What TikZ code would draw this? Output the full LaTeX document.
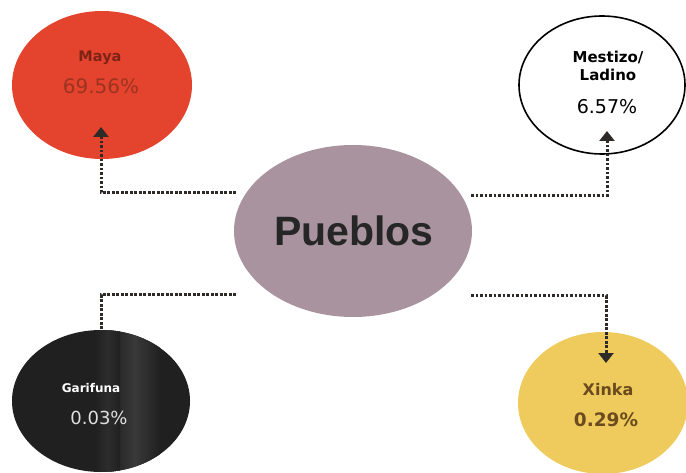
\documentclass[tikz,border=0pt]{standalone}
\usepackage{fontspec}
\setmainfont{DejaVu Sans}
\newfontfamily\heavy{Liberation Sans}
\usetikzlibrary{shapes.geometric,arrows.meta}
\definecolor{mayared}{HTML}{E4442D}
\definecolor{mayatext}{HTML}{7E2417}
\definecolor{mayapct}{HTML}{9C3321}
\definecolor{xinkay}{HTML}{EECB5C}
\definecolor{xinkatext}{HTML}{6B4A1E}
\definecolor{pueblosc}{HTML}{A8939F}
\definecolor{garic}{HTML}{202020}
\definecolor{linec}{HTML}{2E2A28}
\tikzset{
  blob/.style={ellipse, inner sep=0pt},
  dotline/.style={draw=linec, line width=3pt, line cap=butt, dash pattern=on 2.6pt off 1.9pt},
  tipped/.style={-{Triangle[width=15pt,length=10pt]}},
  lbl/.style={inner sep=0pt, align=center, font=\bfseries},
}
\begin{document}
\begin{tikzpicture}[x=1pt,y=-1pt]
\useasboundingbox (0,0) rectangle (686,473);
% ellipses
\node[blob, fill=mayared, minimum width=180pt, minimum height=148pt] (maya) at (102,85) {};
\node[blob, draw=black, line width=1.6pt, fill=white, minimum width=166pt, minimum height=138pt] (mest) at (602,85) {};
\node[blob, fill=garic, minimum width=178pt, minimum height=142pt] (gari) at (101,401) {};
\begin{scope}
  \clip (101,401) ellipse [x radius=89pt, y radius=71pt];
  \shade[left color=garic, right color=garic, middle color=gray!45!black] (110,320) rectangle (160,480);
  \shade[left color=garic, right color=garic, middle color=gray!35!black] (95,320) rectangle (120,480);
\end{scope}
\node[blob, fill=xinkay, minimum width=170pt, minimum height=142pt] (xinka) at (603,403) {};
\node[blob, fill=pueblosc, minimum width=238pt, minimum height=172pt] (pu) at (353,231) {};
% texts
\node[lbl, font=\bfseries\fontsize{14.5}{15}\selectfont, text=mayatext] (tmaya) at (100,58) {Maya};
\node[inner sep=0pt, font=\fontsize{20}{21}\selectfont, text=mayapct] (pmaya) at (101,86) {69.56\%};
\node[lbl, font=\bfseries\fontsize{15}{17.5}\selectfont] (tmest) at (608,66) {Mestizo/\\Ladino};
\node[inner sep=0pt, font=\fontsize{19}{20}\selectfont] (pmest) at (607,107) {6.57\%};
\node[lbl, font=\bfseries\fontsize{12}{13}\selectfont, text=white] (tgari) at (91,388) {Garifuna};
\node[inner sep=0pt, font=\fontsize{18}{19}\selectfont, text=gray!25] (pgari) at (99,418) {0.03\%};
\node[lbl, font=\bfseries\fontsize{16}{17}\selectfont, text=xinkatext] (txinka) at (608,390) {Xinka};
\node[lbl, font=\bfseries\fontsize{18.5}{19}\selectfont, text=xinkatext] (pxinka) at (606,420) {0.29\%};
\node[inner sep=0pt, font=\heavy\bfseries\fontsize{41}{42}\selectfont, text=black!85] (tpu) at (354,231) {Pueblos};
% connector ends
\coordinate (s1) at (236,193);
\coordinate (e1) at (101,127);
\coordinate (s2) at (471,196);
\coordinate (e2) at (607,131);
\coordinate (s3) at (236,295);
\coordinate (s4) at (471,296);
\coordinate (e4) at (606,363);
\draw[dotline, tipped] (s1) -| (e1);
\draw[dotline, tipped] (s2) -| (e2);
\draw[dotline] (s3) -| (gari.north);
\draw[dotline, tipped] (s4) -| (e4);
\end{tikzpicture}
\end{document}
